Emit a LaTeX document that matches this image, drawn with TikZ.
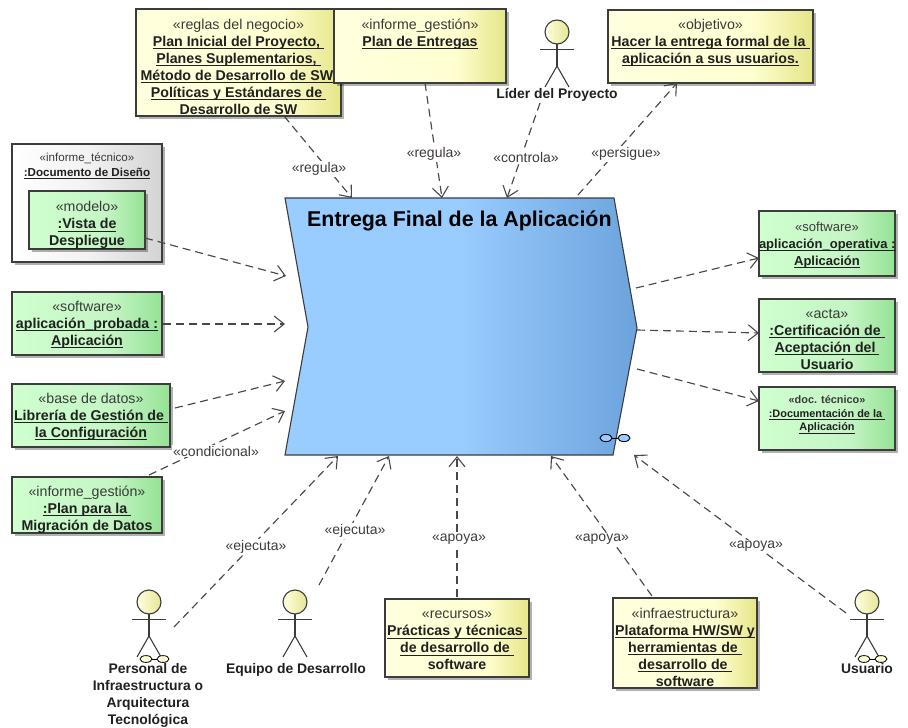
\documentclass[tikz,border=0pt]{standalone}
\usepackage{fontspec}
\setmainfont{Liberation Sans}
\usetikzlibrary{arrows.meta,shadows,calc}
\definecolor{ink}{HTML}{202020}
\definecolor{stereo}{HTML}{3A3A3A}
\definecolor{lbl}{HTML}{403A40}
\definecolor{edge}{HTML}{3C3C3C}
\definecolor{depc}{HTML}{484848}
\pgfdeclarehorizontalshading{yshade}{100bp}{color(0bp)=(yellow!13!white); color(25bp)=(yellow!13!white); color(60bp)=(yellow!18!white); color(75bp)=(yellow!40!white!90!black); color(100bp)=(yellow!40!white!90!black)}
\definecolor{g1}{HTML}{CFFFCF}\definecolor{g2}{HTML}{C4F5C4}\definecolor{g3}{HTML}{95E295}
\pgfdeclarehorizontalshading{gshade}{100bp}{color(0bp)=(g1); color(25bp)=(g1); color(58bp)=(g2); color(75bp)=(g3); color(100bp)=(g3)}
\pgfdeclarehorizontalshading{rshade}{100bp}{color(0bp)=(white); color(25bp)=(white); color(50bp)=(black!5); color(75bp)=(black!17); color(100bp)=(black!17)}
\definecolor{b1}{HTML}{99CCFF}\definecolor{b2}{HTML}{6CA3DC}
\pgfdeclarehorizontalshading{bshade}{100bp}{color(0bp)=(b1); color(25bp)=(b1); color(50bp)=(b1); color(75bp)=(b2); color(100bp)=(b2)}
\tikzset{
  umlbox/.style={draw=edge,line width=1.1pt,inner sep=0pt,outer sep=0pt,anchor=north west,text=ink,
    drop shadow={shadow xshift=3pt,shadow yshift=-3pt,fill=black,opacity=.3}},
  dep/.style={draw=depc,line width=1.15pt,dash pattern=on 8pt off 5pt,-{Straight Barb[length=10pt,width=16pt,line width=1.1pt]}},
  flabel/.style={fill=white,inner sep=1pt,text=lbl,font=\fontsize{14}{16}\selectfont},
  actorhead/.style={circle,draw=edge,line width=1.1pt,minimum size=24pt,inner sep=0pt,outer sep=0pt,left color=yellow!12!white,right color=yellow!35!white!90!black},
  actorline/.style={draw=edge,line width=1.1pt},
  actorname/.style={align=center,inner sep=0pt,text=ink,font=\fontsize{13.9}{17}\selectfont\bfseries},
  rakelink/.style={draw=black,line width=.8pt,fill=yellow!15!white},
}
\newsavebox\ulbox
\newcommand\bn[1]{\leavevmode\sbox\ulbox{\bfseries #1}\rlap{\rule[-2.8pt]{\wd\ulbox}{0.9pt}}\usebox\ulbox}
\newcommand\stp[1]{\textcolor{stereo}{#1}}
\newcommand\umlnode[9]{%
  \node[umlbox,shading=#6,shading angle=0] (#1) at (#2,#3)
   {\parbox[c][\dimexpr#5pt-#3pt\relax][t]{\dimexpr#4pt-#2pt\relax}{\centering\fontsize{#8}{17}\selectfont\vspace*{#7pt}#9\par}};}
\newcommand\actor[3]{%
  \node[actorhead] (#1) at (#2,#3) {};
  \draw[actorline] (#1.south) -- ++(0,22);
  \draw[actorline] ([shift={(-17,5.5)}]#1.south) -- ([shift={(17,5.5)}]#1.south);
  \draw[actorline] ([shift={(-12,43)}]#1.south) -- ([shift={(0,22)}]#1.south) -- ([shift={(12,43)}]#1.south);
}
\newcommand\actorrake[1]{%
  \draw[rakelink] ([shift={(-3,45)}]#1.south) ellipse (6 and 3.4);
  \draw[rakelink] ([shift={(14,45)}]#1.south) ellipse (6 and 3.4);
  \draw[black,line width=.8pt] ([shift={(3,45)}]#1.south) -- ([shift={(8,45)}]#1.south);
}
\begin{document}
\begin{tikzpicture}[x=1pt,y=-1pt]
\useasboundingbox (0,0) rectangle (908,728);
\umlnode{reglas}{136}{9}{341}{116}{yshade}{10}{14.2}{\stp{«reglas del negocio»}\\ \bn{Plan Inicial del Proyecto, }\\ \bn{Planes Suplementarios, }\\ \bn{Método de Desarrollo de SW,}\\ \bn{Políticas y Estándares de }\\ \textbf{Desarrollo de SW}}
\umlnode{entregas}{334}{9}{506}{83}{yshade}{10}{14.2}{\stp{«informe\_gestión»}\\ \bn{Plan de Entregas}}
\umlnode{objetivo}{608}{10}{813}{83}{yshade}{9}{14.2}{\stp{«objetivo»}\\ \bn{Hacer la entrega formal de la }\\ \bn{aplicación a sus usuarios.}}
\umlnode{tecnico}{12}{144}{162}{262}{rshade}{8.5}{11.6}{\stp{«informe\_técnico»}\\[-1.5pt] \bn{:Documento de Diseño}}
\umlnode{vista}{29}{191}{145}{249}{gshade}{10.5}{14.2}{\stp{«modelo»}\\ \bn{:Vista de}\\ \bn{Despliegue}}
\umlnode{probada}{12}{292}{162}{355}{gshade}{9}{14.2}{\stp{«software»}\\ \bn{aplicación\_probada :}\\ \bn{Aplicación}}
\umlnode{libreria}{12}{384}{170}{447}{gshade}{9}{14.2}{\stp{«base de datos»}\\ \bn{Librería de Gestión de }\\ \bn{la Configuración}}
\umlnode{migracion}{12}{477}{162}{533}{gshade}{9}{14.2}{\stp{«informe\_gestión»}\\ \bn{:Plan para la }\\ \textbf{Migración de Datos}}
\umlnode{operativa}{759}{211}{895}{276}{gshade}{11}{13}{\stp{«software»}\\ \bn{aplicación\_operativa :}\\ \bn{Aplicación}}
\umlnode{acta}{759}{299}{895}{372}{gshade}{10}{14.2}{\stp{«acta»}\\ \bn{:Certificación de }\\ \bn{Aceptación del }\\ \textbf{Usuario}}
\umlnode{doctec}{759}{387}{895}{450}{gshade}{9}{10.9}{{\bfseries\stp{«doc. técnico»}}\\[-3.5pt] \bn{:Documentación de la }\\[-3.5pt] \bn{Aplicación}}
\umlnode{recursos}{385}{599}{529}{677}{yshade}{12}{14.2}{\stp{«recursos»}\\ \bn{Prácticas y técnicas }\\ \bn{de desarrollo de }\\ \textbf{software}}
\umlnode{infra}{613}{598}{757}{688}{yshade}{10}{14.2}{\stp{«infraestructura»}\\ \bn{Plataforma HW/SW y}\\ \bn{herramientas de }\\ \bn{desarrollo de }\\ \textbf{software}}
\node[minimum width=352pt,minimum height=257pt,inner sep=0pt,outer sep=0pt,anchor=north west] (main) at (285,198) {};
\draw[draw=edge,line width=1.1pt,shading=bshade,shading angle=0] (main.north west) -- ([shift={(-23,0)}]main.north east) -- ([shift={(0,130)}]main.north east) -- ([shift={(-24,0)}]main.south east) -- (main.south west) -- ([shift={(23,129)}]main.north west) -- cycle;
\node[anchor=west,inner sep=0pt,text=black,font=\fontsize{21.4}{24}\selectfont\bfseries] (titulo) at (307,221) {Entrega Final de la Aplicación};
\draw[draw=black,line width=.9pt,fill=b1] ([shift={(-31,-17)}]main.south east) ellipse (6 and 3.6);
\draw[draw=black,line width=.9pt,fill=b1] ([shift={(-13,-17)}]main.south east) ellipse (6 and 3.6);
\draw[black,line width=.9pt] ([shift={(-25,-17)}]main.south east) -- ([shift={(-19,-17)}]main.south east);
\actor{lider}{557}{32}
\node[actorname] (lidername) at (557,95) {Líder del Proyecto};
\actor{personal}{149}{602}\actorrake{personal}
\node[actorname,anchor=north] (personalname) at (148,663.5) {Personal de\\ Infraestructura o\\ Arquitectura\\ Tecnológica};
\actor{equipo}{295}{602}
\node[actorname,anchor=north] (equiponame) at (296,663.5) {Equipo de Desarrollo};
\actor{usuario}{867}{602}\actorrake{usuario}
\node[actorname,anchor=north] (usuarioname) at (867,663.5) {Usuario};
\draw[dep] ([shift={(148,107)}]reglas.north west) -- ([shift={(67,0)}]main.north west);
\draw[dep] ([shift={(91,74)}]entregas.north west) -- ([shift={(157,0)}]main.north west);
\draw[dep] ([shift={(-17,8)}]lidername.center) -- ([shift={(222,0)}]main.north west);
\draw[dep] ([shift={(293,-3)}]main.north west) -- ([shift={(69,73)}]objetivo.north west);
\draw[dep] ([shift={(116,47)}]vista.north west) -- ([shift={(1,78)}]main.north west);
\draw[dep] ([shift={(151,32)}]probada.north west) -- ([shift={(0,126)}]main.north west);
\draw[dep] ([shift={(163,24)}]libreria.north west) -- ([shift={(0,183)}]main.north west);
\draw[dep] ([shift={(137,-2)}]migracion.north west) -- ([shift={(0,213)}]main.north west);
\draw[dep] ([shift={(25,25)}]personal.center) -- ([shift={(53,1)}]main.south west);
\draw[dep] ([shift={(24,-17)}]equipo.center) -- ([shift={(104,1)}]main.south west);
\draw[dep] ([shift={(72,-2)}]recursos.north west) -- ([shift={(172,1)}]main.south west);
\draw[dep] ([shift={(39,-2)}]infra.north west) -- ([shift={(266,1)}]main.south west);
\draw[dep] ([shift={(-21,11)}]usuario.center) -- ([shift={(-3,0)}]main.south east);
\draw[dep] ([shift={(-1,90)}]main.north east) -- ([shift={(0,47)}]operativa.north west);
\draw[dep] ([shift={(0,132)}]main.north east) -- ([shift={(0,34)}]acta.north west);
\draw[dep] ([shift={(0,171)}]main.north east) -- ([shift={(0,14)}]doctec.north west);
\node[flabel] (l1) at (319,169) {«regula»};
\node[flabel] (l2) at (434,154) {«regula»};
\node[flabel] (l3) at (526,157) {«controla»};
\node[flabel] (l4) at (626,154) {«persigue»};
\node[flabel] (l5) at (216,451) {«condicional»};
\node[flabel] (l6) at (256,547) {«ejecuta»};
\node[flabel] (l7) at (355,531) {«ejecuta»};
\node[flabel] (l8) at (459,539) {«apoya»};
\node[flabel] (l9) at (602,539) {«apoya»};
\node[flabel] (l10) at (756,546) {«apoya»};
\end{tikzpicture}
\end{document}
